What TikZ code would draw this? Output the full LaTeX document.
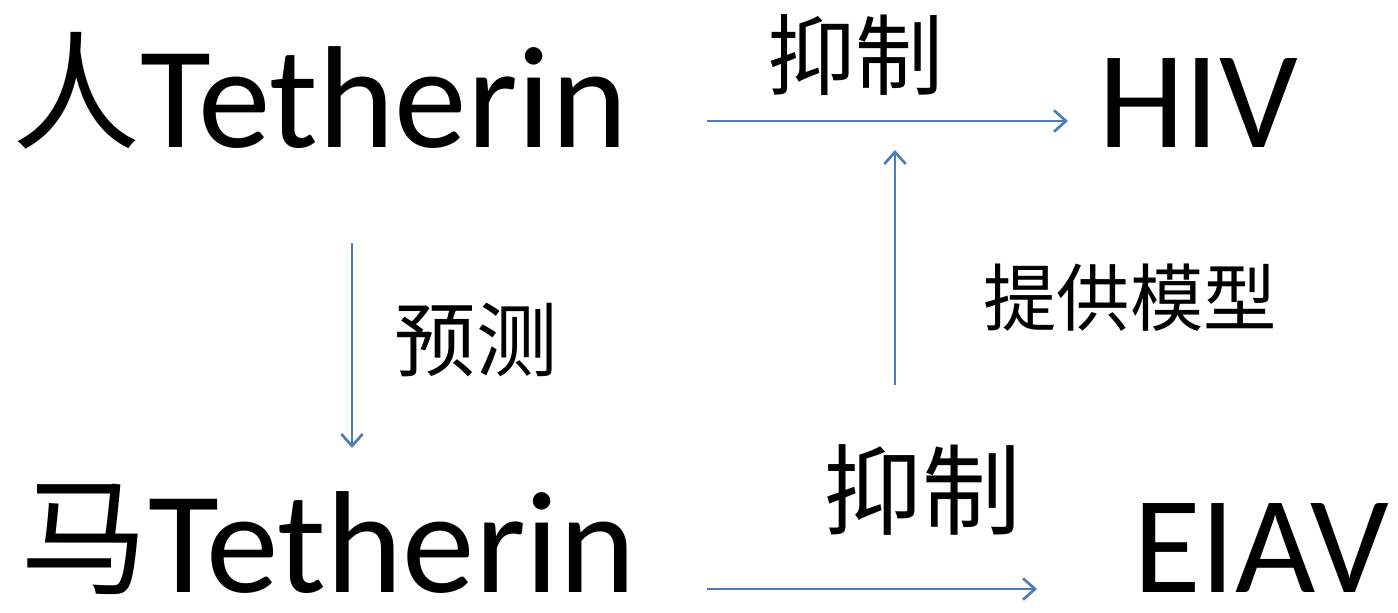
\documentclass[tikz,border=0pt]{standalone}
\usepackage{fontspec}
\setmainfont{Carlito}
\newfontfamily\cjk{Noto Sans CJK SC}
\usetikzlibrary{arrows.meta}
\definecolor{arrowblue}{HTML}{4A7EBB}
\newcommand{\hanzi}[1]{{\cjk\fontsize{96}{100}\selectfont\raisebox{6pt}{#1}}}
\tikzset{
  big/.style={font=\fontsize{109}{115}\selectfont, inner sep=0pt, anchor=base west, text depth=0pt},
  abbr/.style={font=\fontsize{104}{112}\selectfont, inner sep=0pt, anchor=base west, text depth=0pt},
  lbl/.style={font=\cjk, inner sep=0pt, anchor=center},
  conn/.style={draw=arrowblue, line width=2pt, -{Straight Barb[length=9pt,width=16pt,line width=2pt]}}
}
\begin{document}
\begin{tikzpicture}[x=0.75pt,y=-0.75pt]
\useasboundingbox (0,0) rectangle (1398,612);
\node[big] (ht) at (12,147) {\hanzi{人}Tetherin};
\node[abbr] (hiv) at (1098,147) {HIV};
\node[big] (mt) at (20,592) {\hanzi{马}Tetherin};
\node[abbr] (eiav) at (1133,592) {EIAV};
\node[lbl, font=\cjk\fontsize{66}{70}\selectfont] (l1) at (855,55) {抑制};
\node[lbl, font=\cjk\fontsize{61}{66}\selectfont] (l2) at (476,340) {预测};
\node[lbl, font=\cjk\fontsize{55}{60}\selectfont] (l3) at (1130,298) {提供模型};
\node[lbl, font=\cjk\fontsize{74}{80}\selectfont] (l4) at (922,490) {抑制};
\coordinate (a1s) at (707,121); \coordinate (a1e) at (1068,121);
\coordinate (a2s) at (352,243); \coordinate (a2e) at (352,448);
\coordinate (a3s) at (895,385); \coordinate (a3e) at (895,150);
\coordinate (a4s) at (707,589); \coordinate (a4e) at (1037,589);
\draw[conn] (a1s) -- (a1e);
\draw[conn] (a2s) -- (a2e);
\draw[conn] (a3s) -- (a3e);
\draw[conn] (a4s) -- (a4e);
\end{tikzpicture}
\end{document}
